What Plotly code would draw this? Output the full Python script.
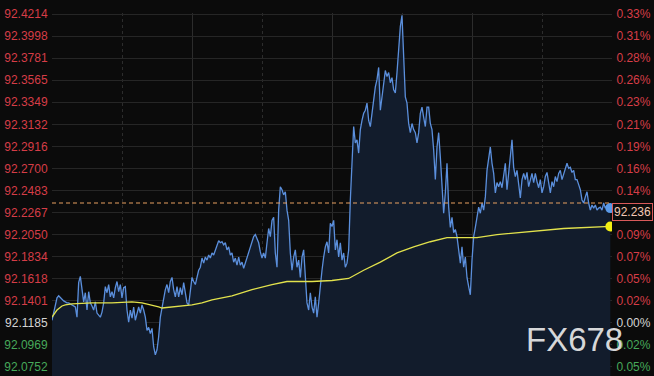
import plotly.graph_objects as go

# ---------------- data ----------------
prev_close = 92.1185
last_price = 92.236

price = [
    92.121, 92.128, 92.137, 92.143, 92.145, 92.143, 92.141, 92.140, 92.139, 92.138,
    92.138, 92.137, 92.136, 92.135, 92.134, 92.124, 92.158, 92.164, 92.151, 92.139,
    92.148, 92.131, 92.149, 92.138, 92.135, 92.131, 92.139, 92.128, 92.126, 92.124,
    92.129, 92.138, 92.154, 92.148, 92.156, 92.144, 92.149, 92.143, 92.153, 92.159,
    92.149, 92.156, 92.143, 92.153, 92.154, 92.131, 92.119, 92.131, 92.123, 92.134,
    92.121, 92.128, 92.134, 92.128, 92.136, 92.131, 92.124, 92.111, 92.114, 92.108,
    92.113, 92.095, 92.087, 92.092, 92.105, 92.124, 92.134, 92.144, 92.151, 92.156,
    92.148, 92.159, 92.163, 92.151, 92.144, 92.154, 92.144, 92.153, 92.146, 92.158,
    92.148, 92.138, 92.136, 92.148, 92.163, 92.159, 92.156, 92.163, 92.170, 92.173,
    92.182, 92.177, 92.183, 92.180, 92.185, 92.182, 92.187, 92.185, 92.190, 92.195,
    92.199, 92.197, 92.198, 92.195, 92.197, 92.190, 92.193, 92.185, 92.187, 92.178,
    92.182, 92.175, 92.183, 92.175, 92.178, 92.172, 92.177, 92.183, 92.188, 92.193,
    92.197, 92.203, 92.205, 92.200, 92.197, 92.188, 92.182, 92.187, 92.182, 92.197,
    92.211, 92.203, 92.219, 92.222, 92.187, 92.173, 92.229, 92.252, 92.249, 92.244,
    92.247, 92.229, 92.219, 92.187, 92.170, 92.183, 92.190, 92.173, 92.180, 92.163,
    92.183, 92.190, 92.160, 92.138, 92.131, 92.148, 92.134, 92.128, 92.144, 92.124,
    92.138, 92.158, 92.170, 92.183, 92.193, 92.198, 92.187, 92.216, 92.213, 92.219,
    92.190, 92.200, 92.183, 92.197, 92.180, 92.187, 92.173, 92.177, 92.190, 92.239,
    92.278, 92.311, 92.295, 92.298, 92.285, 92.308, 92.317, 92.324, 92.327, 92.334,
    92.317, 92.311, 92.324, 92.340, 92.350, 92.357, 92.369, 92.327, 92.340, 92.350,
    92.366, 92.360, 92.364, 92.354, 92.359, 92.347, 92.344, 92.364, 92.393, 92.409,
    92.420, 92.371, 92.340, 92.334, 92.314, 92.305, 92.314, 92.308, 92.305, 92.295,
    92.305, 92.324, 92.330, 92.320, 92.311, 92.330, 92.330, 92.314, 92.308, 92.288,
    92.259, 92.291, 92.305, 92.281, 92.256, 92.226, 92.246, 92.275, 92.232, 92.212,
    92.222, 92.207, 92.210, 92.203, 92.190, 92.177, 92.193, 92.173, 92.183, 92.163,
    92.154, 92.146, 92.180, 92.203, 92.212, 92.222, 92.232, 92.226, 92.236, 92.229,
    92.242, 92.268, 92.278, 92.291, 92.275, 92.265, 92.246, 92.256, 92.252, 92.257,
    92.251, 92.265, 92.275, 92.249, 92.265, 92.281, 92.298, 92.271, 92.262, 92.268,
    92.256, 92.241, 92.259, 92.265, 92.259, 92.266, 92.252, 92.259, 92.265, 92.256,
    92.265, 92.257, 92.251, 92.259, 92.246, 92.252, 92.262, 92.266, 92.257, 92.246,
    92.257, 92.252, 92.262, 92.257, 92.265, 92.268, 92.259, 92.265, 92.270, 92.275,
    92.270, 92.271, 92.266, 92.268, 92.259, 92.259, 92.254, 92.249, 92.239, 92.236,
    92.242, 92.247, 92.236, 92.229, 92.234, 92.231, 92.234, 92.229, 92.231, 92.232,
    92.229, 92.236, 92.231, 92.234, 92.229, 92.231,
]
times = list(range(len(price)))

avg_times = [0, 3, 6, 8, 12, 24, 36, 44, 48, 54, 60, 64, 66, 72, 84, 90, 96, 108,
             120, 132, 141, 156, 168, 178, 187, 197, 207, 217, 227, 237, 251, 255,
             267, 287, 307, 335]
avg_price = [92.124, 92.131, 92.135, 92.136, 92.137, 92.138, 92.138, 92.139, 92.139,
             92.138, 92.136, 92.134, 92.133, 92.134, 92.136, 92.138, 92.141, 92.145,
             92.151, 92.156, 92.159, 92.159, 92.160, 92.162, 92.170, 92.178, 92.187,
             92.193, 92.198, 92.202, 92.202, 92.202, 92.205, 92.208, 92.211, 92.213]

session_len = 336
major_grid = [0, 84, 168, 252, 336]
minor_grid = [42, 126, 210, 294]

price_ticks = [92.4214, 92.3998, 92.3781, 92.3565, 92.3349, 92.3132, 92.2916, 92.2700,
               92.2483, 92.2267, 92.2050, 92.1834, 92.1618, 92.1401, 92.1185, 92.0969,
               92.0752]

# ---------------- style ----------------
BG = "#0b0b0b"
RED = "#d63d47"
GREEN = "#46a85a"
NEUTRAL = "#d4d4d4"
GRID = "#262626"


def tick_color(v):
    if abs(v - prev_close) < 1e-6:
        return NEUTRAL
    return RED if v > prev_close else GREEN


left_text = [f'<span style="color:{tick_color(v)}">{v:.4f}</span>' for v in price_ticks]
right_text = [
    f'<span style="color:{tick_color(v)}">{abs(v - prev_close) / prev_close * 100:.2f}%</span>'
    for v in price_ticks
]

y_top = 92.4224
y_bot = 92.0663

fig = go.Figure()

fig.add_trace(go.Scatter(
    x=times, y=price, mode="lines",
    line=dict(color="#5b8fdc", width=1.3),
    fill="tozeroy", fillcolor="#121c2c",
    hoverinfo="skip", showlegend=False,
))
fig.add_trace(go.Scatter(
    x=avg_times, y=avg_price, mode="lines",
    line=dict(color="#e2e24c", width=1.3),
    hoverinfo="skip", showlegend=False,
))
fig.add_trace(go.Scatter(
    x=[times[-1]], y=[price[-1]], mode="markers",
    marker=dict(color="#5b9ae8", size=10),
    hoverinfo="skip", showlegend=False,
))
fig.add_trace(go.Scatter(
    x=[avg_times[-1]], y=[avg_price[-1]], mode="markers",
    marker=dict(color="#f2ee12", size=10),
    hoverinfo="skip", showlegend=False,
))
# invisible trace to activate the right axis
fig.add_trace(go.Scatter(
    x=[times[0]], y=[price[0]], yaxis="y2", mode="markers",
    marker=dict(opacity=0), hoverinfo="skip", showlegend=False,
))

# dashed last price line
fig.add_shape(type="line", xref="x", yref="y", x0=0, x1=session_len,
              y0=last_price, y1=last_price,
              line=dict(color="#e8a060", width=1, dash="4px,3px"))

# last price box
fig.add_annotation(
    xref="paper", yref="y", x=1.0, y=last_price, xanchor="left", yanchor="top",
    text=f"{last_price:.3f}", showarrow=False,
    font=dict(family="Liberation Sans, Arial", size=12, color="#f2c8b4"),
    bgcolor=BG, bordercolor="#d95a5a", borderwidth=1, borderpad=1,
)

# watermark
fig.add_annotation(
    xref="paper", yref="paper", x=0.933, y=0.1, xanchor="center", yanchor="middle",
    text="FX678", showarrow=False,
    font=dict(family="Liberation Sans, Arial", size=33, color="rgba(235,235,235,0.92)"),
)

fig.update_layout(
    width=654, height=376,
    margin=dict(l=52, r=42, t=13, b=0, autoexpand=False),
    paper_bgcolor=BG, plot_bgcolor=BG,
    font=dict(family="Liberation Sans, Arial", size=12),
    xaxis=dict(
        range=[0, session_len], showticklabels=False, zeroline=False,
        tickvals=major_grid, showgrid=True, gridcolor="#2c2c2c", gridwidth=1,
        minor=dict(tickvals=minor_grid, showgrid=True, gridcolor="#2c2c2c", griddash="dot"),
        showline=False, fixedrange=True, automargin=False,
    ),
    yaxis=dict(
        range=[y_bot, y_top], tickvals=price_ticks, ticktext=left_text,
        showgrid=True, gridcolor=GRID, gridwidth=1, zeroline=False,
        ticks="outside", ticklen=1, tickcolor="rgba(0,0,0,0)",
        tickfont=dict(size=12, color=RED), side="left", automargin=False,
    ),
    yaxis2=dict(
        range=[y_bot, y_top], overlaying="y", side="right",
        tickvals=price_ticks, ticktext=right_text, showgrid=False, zeroline=False,
        ticks="outside", ticklen=1, tickcolor="rgba(0,0,0,0)",
        tickfont=dict(size=12, color=RED), automargin=False,
    ),
    showlegend=False,
)

fig.write_html(
    "out.html",
    config={"displayModeBar": False, "staticPlot": True},
    post_script="document.body.style.margin='0';document.body.style.background='#0b0b0b';",
)
